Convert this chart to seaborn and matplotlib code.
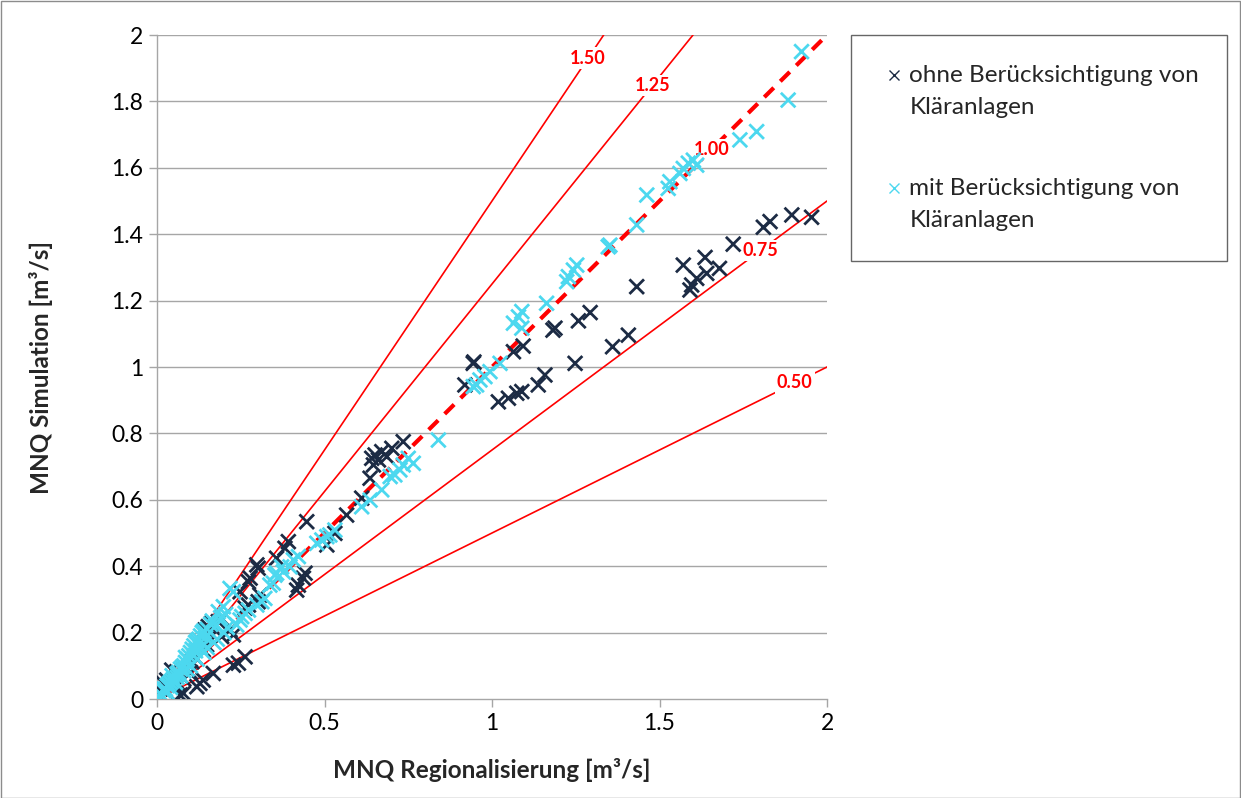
import matplotlib
matplotlib.use("Agg")
import matplotlib.pyplot as plt
import matplotlib.patches as mpatches
import numpy as np
import pandas as pd
import seaborn as sns

# MNQ values [m³/s]: regionalisation (x) vs. simulation (y)
ohne_x = [1.954, 1.895, 1.830, 1.810, 1.720, 1.679, 1.636, 1.641, 1.611, 1.596,
          1.591, 1.571, 1.432, 1.407, 1.360, 1.293, 1.258, 1.248, 1.188, 1.182,
          1.158, 1.138, 1.093, 1.064, 1.089, 1.074, 1.049, 1.019, 0.944, 0.946,
          0.919, 0.735, 0.701, 0.671, 0.651, 0.641, 0.661, 0.686, 0.646, 0.636,
          0.611, 0.566, 0.447, 0.531, 0.507, 0.392, 0.382, 0.357, 0.298, 0.442,
          0.437, 0.422, 0.417, 0.302, 0.278, 0.273, 0.248, 0.307, 0.302, 0.263,
          0.273, 0.193, 0.183, 0.153, 0.143, 0.218, 0.228, 0.263, 0.243, 0.228,
          0.168, 0.138, 0.128, 0.119, 0.079, 0.069, 0.059, 0.029, 0.019, 0.193,
          0.148, 0.138, 0.104, 0.113, 0.044, 0.163, 0.010, 0.030, 0.050, 0.080,
          0.100, 0.060]
ohne_y = [1.451, 1.458, 1.438, 1.421, 1.370, 1.297, 1.330, 1.282, 1.267, 1.247,
          1.232, 1.307, 1.242, 1.096, 1.061, 1.164, 1.139, 1.011, 1.117, 1.111,
          0.976, 0.946, 1.063, 1.046, 0.926, 0.921, 0.906, 0.895, 1.011, 1.015,
          0.946, 0.775, 0.755, 0.745, 0.735, 0.725, 0.720, 0.730, 0.705, 0.665,
          0.605, 0.554, 0.534, 0.499, 0.464, 0.474, 0.454, 0.424, 0.404, 0.379,
          0.364, 0.343, 0.328, 0.394, 0.364, 0.353, 0.323, 0.313, 0.293, 0.274,
          0.283, 0.243, 0.233, 0.218, 0.208, 0.208, 0.193, 0.127, 0.108, 0.102,
          0.077, 0.057, 0.047, 0.037, 0.017, 0.012, 0.082, 0.057, 0.047, 0.188,
          0.163, 0.148, 0.112, 0.127, 0.087, 0.228, 0.030, 0.020, 0.040, 0.060,
          0.080, 0.050]

mit_x = [1.924, 1.884, 1.790, 1.740, 1.601, 1.611, 1.586, 1.571, 1.561, 1.531,
         1.526, 1.462, 1.432, 1.352, 1.347, 1.253, 1.243, 1.228, 1.223, 1.163,
         1.089, 1.079, 1.064, 1.089, 1.024, 0.994, 0.979, 0.964, 0.954, 0.944,
         0.840, 0.765, 0.750, 0.735, 0.725, 0.710, 0.696, 0.671, 0.636, 0.611,
         0.531, 0.507, 0.516, 0.492, 0.477, 0.422, 0.407, 0.397, 0.377, 0.357,
         0.372, 0.352, 0.218, 0.228, 0.337, 0.347, 0.322, 0.313, 0.298, 0.273,
         0.263, 0.253, 0.248, 0.238, 0.198, 0.183,
         0.005, 0.010, 0.015, 0.020, 0.025, 0.030, 0.035, 0.040, 0.045, 0.050,
         0.055, 0.060, 0.065, 0.070, 0.075, 0.080, 0.085, 0.090, 0.095, 0.100,
         0.105, 0.110, 0.115, 0.120, 0.125, 0.130, 0.135, 0.140, 0.150, 0.160,
         0.165, 0.170, 0.180, 0.200, 0.210, 0.090, 0.100, 0.120, 0.140, 0.150,
         0.060, 0.080, 0.110, 0.130, 0.070, 0.040, 0.030, 0.020, 0.045, 0.085,
         0.115, 0.145, 0.175, 0.190, 0.205]
mit_y = [1.950, 1.804, 1.709, 1.684, 1.623, 1.608, 1.614, 1.598, 1.583, 1.558,
         1.538, 1.518, 1.428, 1.367, 1.362, 1.307, 1.292, 1.272, 1.257, 1.192,
         1.167, 1.151, 1.132, 1.117, 1.011, 0.986, 0.971, 0.961, 0.946, 0.941,
         0.780, 0.710, 0.725, 0.705, 0.690, 0.675, 0.670, 0.630, 0.599, 0.579,
         0.509, 0.489, 0.494, 0.479, 0.469, 0.429, 0.419, 0.398, 0.383, 0.379,
         0.398, 0.373, 0.333, 0.323, 0.343, 0.349, 0.303, 0.293, 0.283, 0.268,
         0.258, 0.248, 0.238, 0.223, 0.278, 0.263,
         0.005, 0.015, 0.010, 0.025, 0.030, 0.020, 0.045, 0.035, 0.055, 0.060,
         0.050, 0.075, 0.080, 0.070, 0.095, 0.100, 0.110, 0.120, 0.130, 0.140,
         0.150, 0.160, 0.170, 0.175, 0.180, 0.190, 0.200, 0.205, 0.210, 0.225,
         0.235, 0.170, 0.180, 0.200, 0.215, 0.090, 0.100, 0.120, 0.140, 0.155,
         0.065, 0.085, 0.130, 0.155, 0.090, 0.050, 0.040, 0.030, 0.070, 0.125,
         0.145, 0.185, 0.220, 0.245, 0.255]

series_names = ["ohne Berücksichtigung von\nKläranlagen",
                "mit Berücksichtigung von\nKläranlagen"]
series_colors = ["#1c2b44", "#4cd8ef"]

ratio_slopes = [1.50, 1.25, 1.00, 0.75, 0.50]
ratio_labels = ["1.50", "1.25", "1.00", "0.75", "0.50"]
ratio_label_x = [1.287, 1.478, 1.655, 1.800, 1.904]

x_ticks = [0, 0.5, 1, 1.5, 2]
y_ticks = [0, 0.2, 0.4, 0.6, 0.8, 1, 1.2, 1.4, 1.6, 1.8, 2]

df = pd.DataFrame({
    "x": ohne_x + mit_x,
    "y": ohne_y + mit_y,
    "Reihe": [series_names[0]] * len(ohne_x) + [series_names[1]] * len(mit_x),
})

sns.set_theme(style="white")
plt.rcParams["font.family"] = ["Lato", "DejaVu Sans"]

fig = plt.figure(figsize=(12.41, 7.98), dpi=100)
ax = fig.add_axes([157 / 1241, 1 - 699 / 798, 670 / 1241, 664 / 798])

grid_col = "#a6a6a6"
for yv in y_ticks[1:]:
    ax.axhline(yv, color=grid_col, lw=1.0, zorder=0)

# ratio lines simulation / regionalisation
for k, lab, lx in zip(ratio_slopes, ratio_labels, ratio_label_x):
    xe = min(2.0, 2.0 / k)
    xs = np.array([0.0, xe])
    if k == 1.0:
        ax.plot(xs, k * xs, color="#ff0000", lw=3.0, ls=(0, (3.2, 2.2)), zorder=1)
    else:
        ax.plot(xs, k * xs, color="#ff0000", lw=1.2, zorder=1)
    ax.text(lx, k * lx, lab, color="#ff0000", fontsize=13, fontweight="bold",
            ha="center", va="center", zorder=2,
            bbox=dict(boxstyle="square,pad=0.12", fc="white", ec="none"))

sns.scatterplot(data=df, x="x", y="y", hue="Reihe", palette=series_colors,
                marker="x", s=110, linewidth=2.0, ax=ax, zorder=3, legend=True)

ax.set_xlim(0, 2)
ax.set_ylim(0, 2)
ax.set_xticks(x_ticks)
ax.set_xticklabels([f"{v:g}" for v in x_ticks])
ax.set_yticks(y_ticks)
ax.set_yticklabels([f"{v:g}" for v in y_ticks])
ax.tick_params(axis="both", labelsize=16.5, colors=grid_col, labelcolor="black",
               length=6, width=1.0, direction="out", bottom=True, left=True, pad=4)
for side in ["top", "right"]:
    ax.spines[side].set_visible(False)
for side in ["left", "bottom"]:
    ax.spines[side].set_color(grid_col)
    ax.spines[side].set_linewidth(1.0)

ax.set_xlabel("MNQ Regionalisierung [m³/s]", fontsize=17.5, fontweight="bold", labelpad=17)
ax.set_ylabel("MNQ Simulation [m³/s]", fontsize=17.5, fontweight="bold", labelpad=42)

handles, labels = ax.get_legend_handles_labels()
ax.get_legend().remove()
leg = fig.legend(handles, labels, loc="upper left",
                 bbox_to_anchor=(851 / 1241, 1 - 35 / 798, 376 / 1241, 0.0),
                 mode="expand", fontsize=17.5, frameon=True, fancybox=False,
                 edgecolor="#404040", borderpad=1.25, labelspacing=2.45,
                 handletextpad=0.15, handlelength=1.0, borderaxespad=0.0,
                 markerscale=0.7)
leg.get_frame().set_linewidth(1.0)
for t in leg.get_texts():
    t.set_linespacing(1.65)
# put each legend marker beside the first text line of its entry
for h in leg.legend_handles:
    h.set_linewidth(1.0)
    if hasattr(h, "set_markeredgewidth"):
        h.set_markeredgewidth(1.0)
    if hasattr(h, "get_ydata"):
        h.set_ydata(np.asarray(h.get_ydata(), dtype=float) + 12.0)
    elif hasattr(h, "get_offsets"):
        offs = np.asarray(h.get_offsets(), dtype=float)
        offs[:, 1] += 12.0
        h.set_offsets(offs)

fig.patches.append(mpatches.Rectangle((0.5 / 1241, 0.5 / 798), 1 - 1.5 / 1241,
                                      1 - 1.5 / 798, transform=fig.transFigure,
                                      fill=False, ec="#8c8c8c", lw=1.0))

fig.savefig("out.png", dpi=100)
